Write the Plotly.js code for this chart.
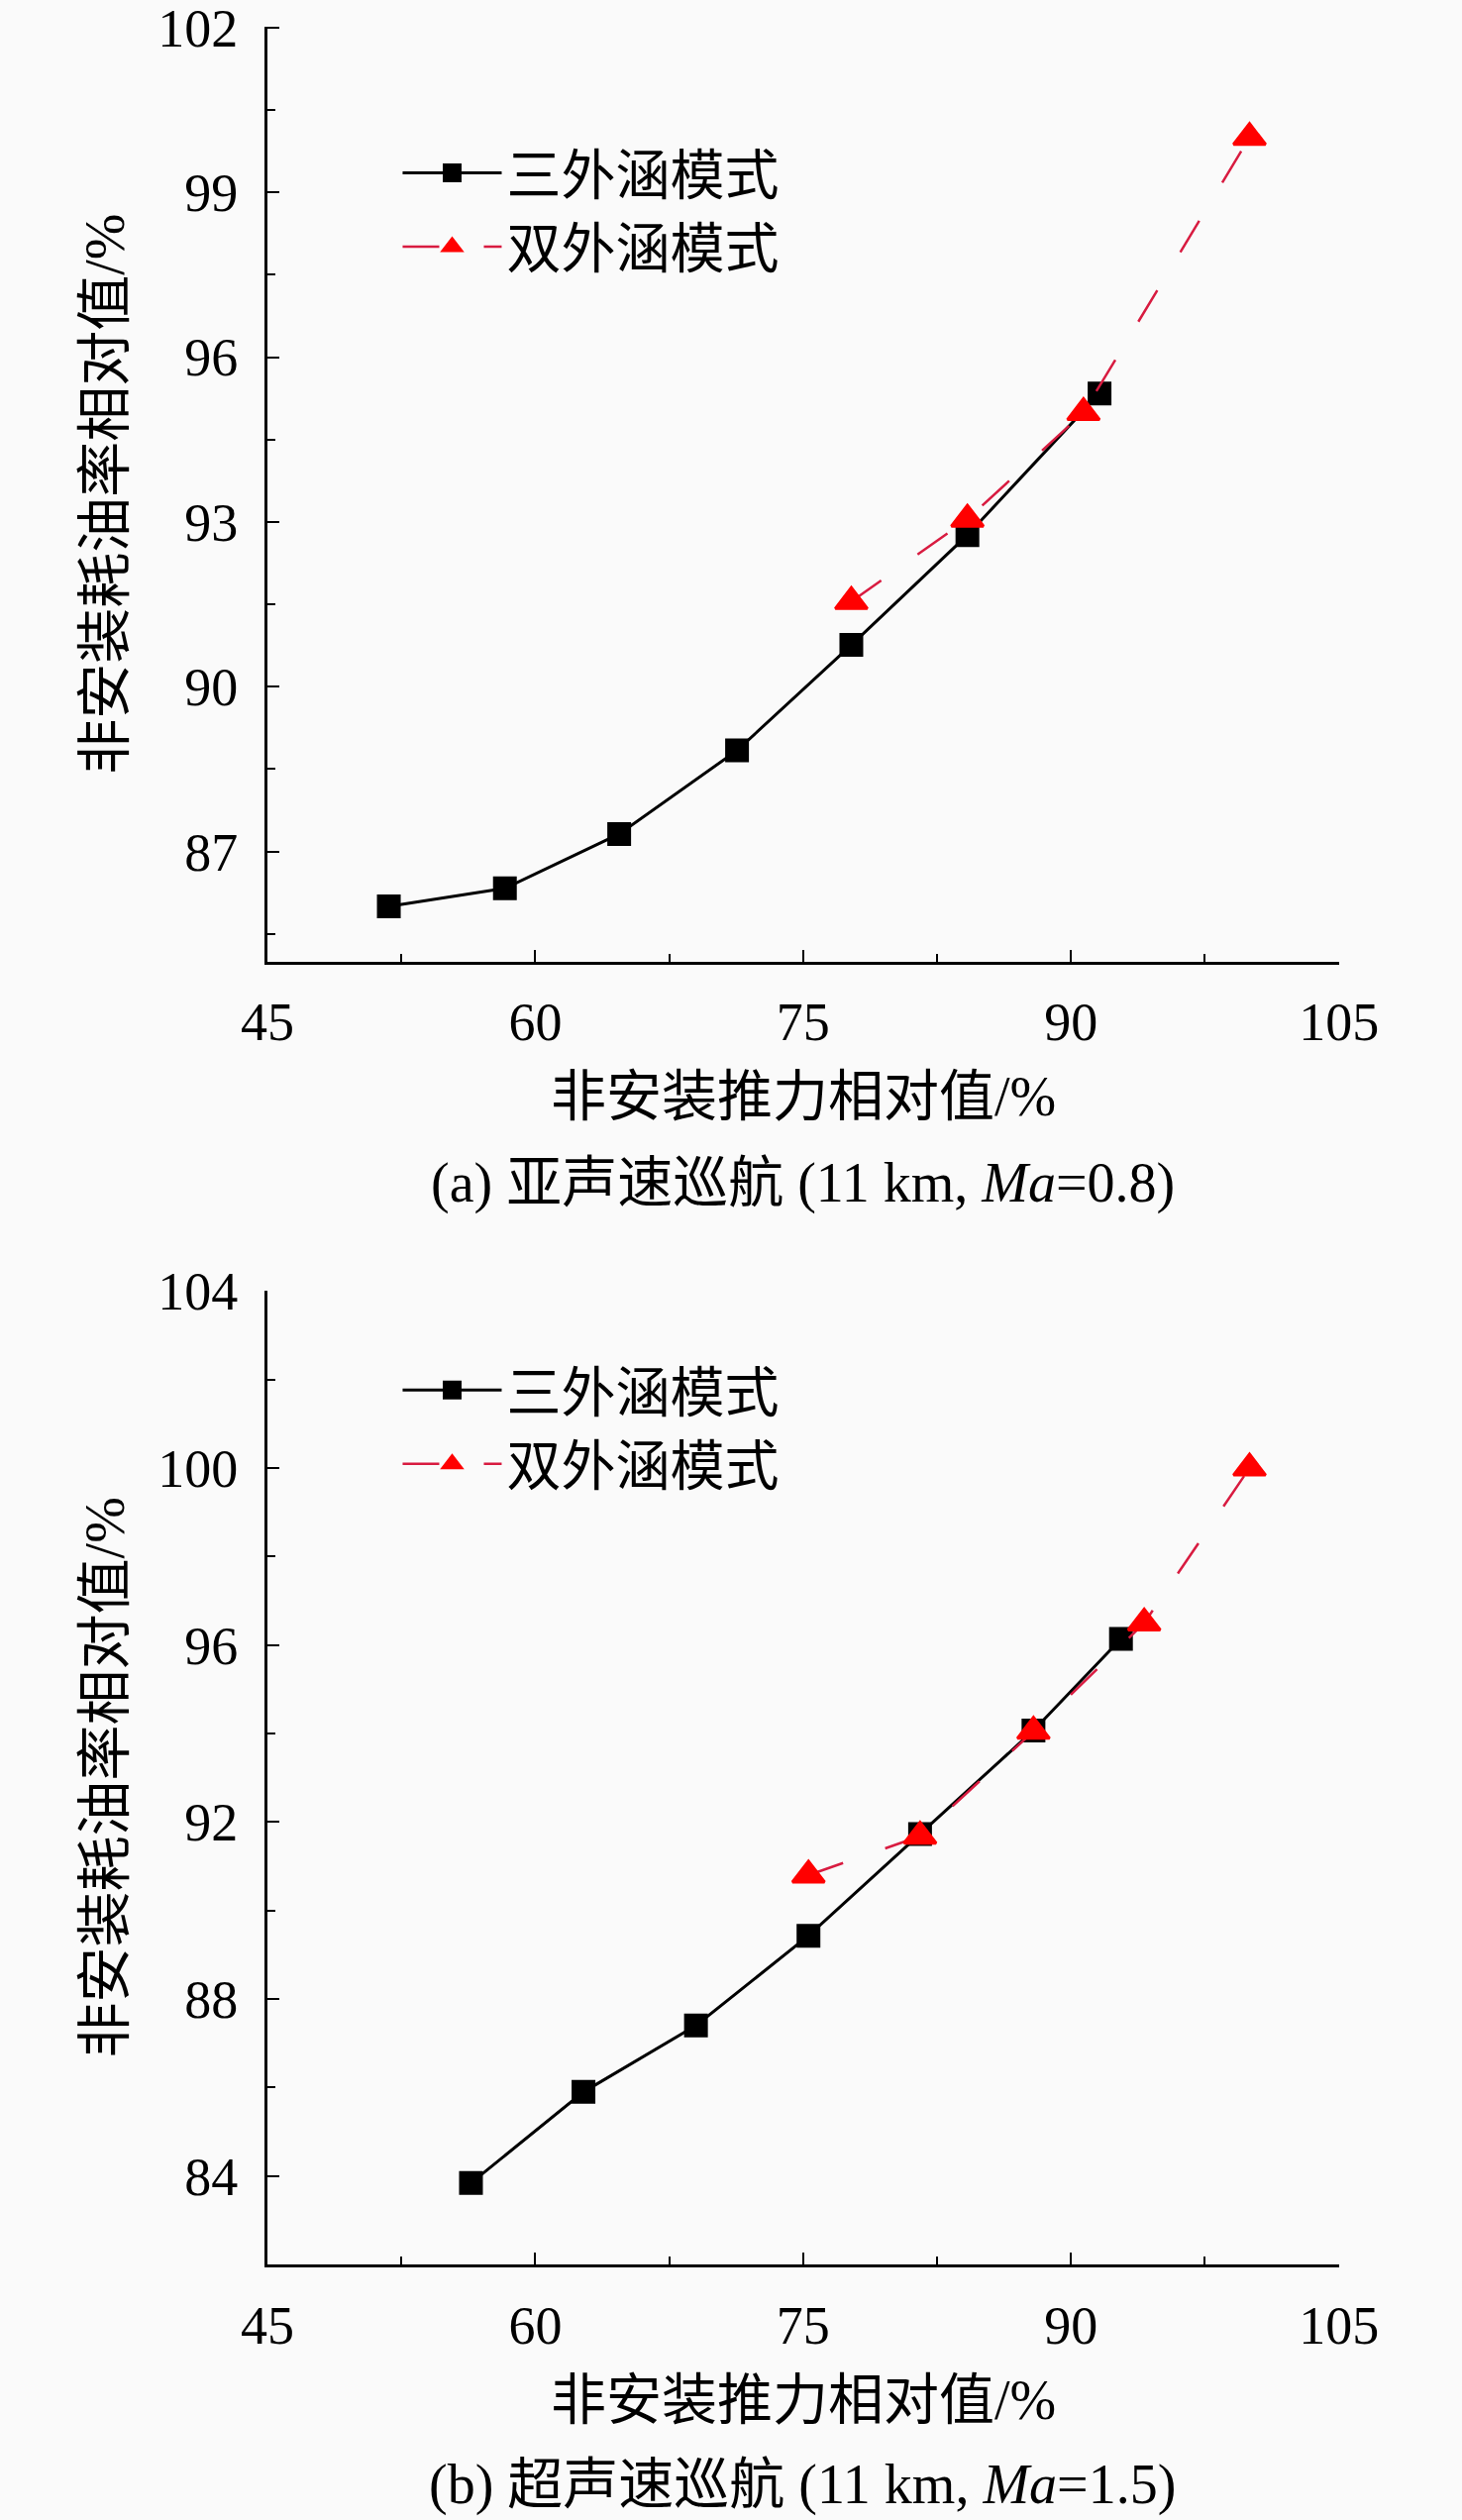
<!DOCTYPE html>
<html>
<head>
<meta charset="utf-8">
<script src="https://cdn.plot.ly/plotly-3.0.1.min.js"></script>
<style>
  html, body { margin: 0; padding: 0; background: #fafafa; }
  #chart { width: 1476px; height: 2544px; }
</style>
</head>
<body>
<div id="chart"></div>
<script>
// ---- data ----
// (a) subsonic cruise, 11 km, Ma=0.8
const subTripleX = [51.8, 58.3, 64.7, 71.3, 77.7, 84.2, 91.6];
const subTripleY = [86.0, 86.33, 87.32, 88.84, 90.76, 92.76, 95.34];
const subDoubleX = [77.7, 84.2, 90.7, 100.0];
const subDoubleY = [91.55, 93.05, 94.99, 100.0];

// (b) supersonic cruise, 11 km, Ma=1.5
const supTripleX = [56.4, 62.7, 69.0, 75.3, 81.55, 87.9, 92.8];
const supTripleY = [83.84, 85.9, 87.4, 89.43, 91.73, 94.07, 96.14];
const supDoubleX = [75.3, 81.55, 87.9, 94.1, 100.0];
const supDoubleY = [90.8, 91.68, 94.05, 96.5, 100.0];

const seriesNames = ['三外涵模式', '双外涵模式'];
const captions = [
    '(a) 亚声速巡航 (11 km, <i>Ma</i>=0.8)',
    '(b) 超声速巡航 (11 km, <i>Ma</i>=1.5)',
];
const xTitle = '非安装推力相对值/%';
const yTitle = '非安装耗油率相对值/%';

// ---- styling ----
const FONT = '"Liberation Serif", "Times New Roman", "Noto Sans CJK SC", serif';
const BLACK = '#000000';
const RED = '#ff0000';
const RED_LINE = '#d81b40';

const tripleTrace = (x, y, xa, ya, legendId) => ({
    x: x,
    y: y,
    xaxis: xa,
    yaxis: ya,
    legend: legendId,
    name: seriesNames[0],
    type: 'scatter',
    mode: 'lines+markers',
    line: { color: BLACK, width: 3 },
    marker: { symbol: 'square', size: 21, color: BLACK, line: { color: BLACK, width: 3 } },
    hoverinfo: 'x+y',
});

const doubleTrace = (x, y, xa, ya, legendId) => ({
    x: x,
    y: y,
    xaxis: xa,
    yaxis: ya,
    legend: legendId,
    name: seriesNames[1],
    type: 'scatter',
    mode: 'lines+markers',
    line: { color: RED_LINE, width: 2.5, dash: '37px,45px' },
    marker: { symbol: 'triangle-up', size: 28, color: RED, line: { color: RED, width: 3 } },
    hoverinfo: 'x+y',
});

const data = [
    tripleTrace(subTripleX, subTripleY, 'x', 'y', 'legend'),
    doubleTrace(subDoubleX, subDoubleY, 'x', 'y', 'legend'),
    tripleTrace(supTripleX, supTripleY, 'x2', 'y2', 'legend2'),
    doubleTrace(supDoubleX, supDoubleY, 'x2', 'y2', 'legend2'),
];

const xAxisBase = () => ({
    domain: [0.1829, 0.9160],
    range: [45, 105.02],
    dtick: 15,
    tick0: 45,
    ticks: 'inside',
    ticklen: 12,
    tickwidth: 2,
    tickcolor: BLACK,
    minor: { dtick: 7.5, ticks: 'inside', ticklen: 8, tickwidth: 2, tickcolor: BLACK },
    showline: true,
    linecolor: BLACK,
    linewidth: 3,
    showgrid: false,
    zeroline: false,
    tickfont: { family: FONT, size: 54, color: BLACK },
    ticklabelstandoff: 12,
    ticklabeloverflow: 'allow',
    title: {
        text: xTitle,
        font: { family: FONT, size: 56, color: BLACK },
        standoff: 26,
    },
});

const yAxisBase = (domain, range, dtick) => ({
    domain: domain,
    range: range,
    dtick: dtick,
    tick0: 0,
    ticks: 'inside',
    ticklen: 12,
    tickwidth: 2,
    tickcolor: BLACK,
    minor: { dtick: dtick / 2, ticks: 'inside', ticklen: 8, tickwidth: 2, tickcolor: BLACK },
    showline: true,
    linecolor: BLACK,
    linewidth: 3,
    showgrid: false,
    zeroline: false,
    tickfont: { family: FONT, size: 54, color: BLACK },
    ticklabelstandoff: 16,
    ticklabeloverflow: 'allow',
    title: {
        text: yTitle,
        font: { family: FONT, size: 56, color: BLACK },
        standoff: 16,
    },
});

const legendBase = (y) => ({
    x: 0.272,
    y: y,
    xanchor: 'left',
    yanchor: 'top',
    bgcolor: 'rgba(0,0,0,0)',
    borderwidth: 0,
    itemwidth: 100,
    font: { family: FONT, size: 55, color: BLACK },
    tracegroupgap: 0,
});

const layout = {
    width: 1476,
    height: 2544,
    showlegend: true,
    paper_bgcolor: '#fafafa',
    plot_bgcolor: '#fafafa',
    margin: { l: 0, r: 0, t: 0, b: 0 },
    xaxis: Object.assign(xAxisBase(), { anchor: 'y' }),
    yaxis: Object.assign(yAxisBase([0.6185, 0.9895], [85, 102.02], 3), { anchor: 'x' }),
    xaxis2: Object.assign(xAxisBase(), { anchor: 'y2' }),
    yaxis2: Object.assign(yAxisBase([0.1014, 0.4880], [82, 104.02], 4), { anchor: 'x2' }),
    legend: legendBase(0.948),
    legend2: legendBase(0.465),
    annotations: [
        {
            text: captions[0],
            xref: 'paper', yref: 'paper',
            x: 0.549, y: 0.5303,
            xanchor: 'center', yanchor: 'middle',
            showarrow: false,
            font: { family: FONT, size: 56, color: BLACK },
        },
        {
            text: captions[1],
            xref: 'paper', yref: 'paper',
            x: 0.549, y: 0.0138,
            xanchor: 'center', yanchor: 'middle',
            showarrow: false,
            font: { family: FONT, size: 56, color: BLACK },
        },
    ],
};

try {
    Plotly.newPlot('chart', data, layout, { displayModeBar: false, staticPlot: true });
} catch (e) {
    console.log(e);
}
</script>
</body>
</html>
